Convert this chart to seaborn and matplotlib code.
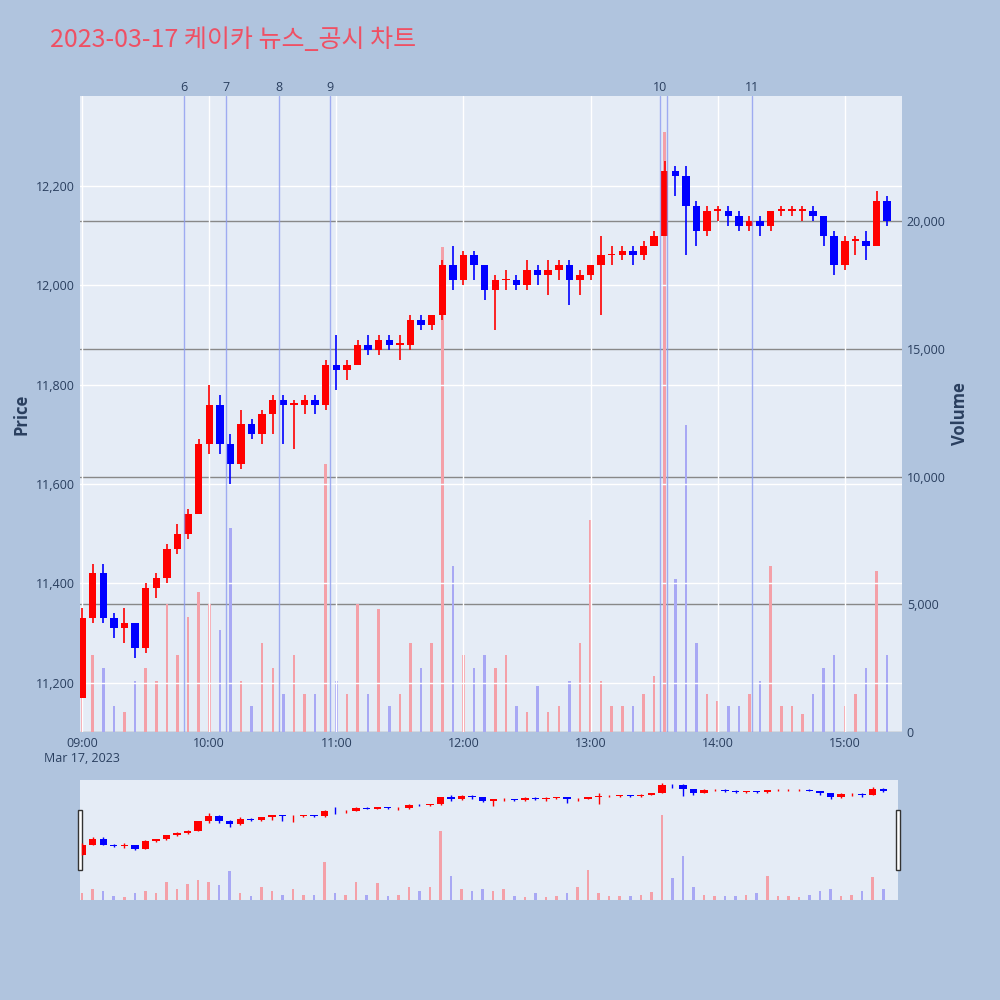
import matplotlib
matplotlib.use("Agg")
import matplotlib.pyplot as plt
import seaborn as sns
import numpy as np

# 5-minute bars from 09:00 (minutes after 09:00), last one is the 15:30 close
minutes = list(range(0, 385, 5)) + [390]
opens = [11170, 11330, 11420, 11330, 11310, 11320, 11270, 11390, 11410, 11470, 11500, 11540, 11680, 11760, 11680, 11640,
         11720, 11700, 11740, 11770, 11760, 11760, 11770, 11760, 11840, 11830, 11840, 11880, 11870, 11890, 11880, 11880,
         11930, 11920, 11940, 12040, 12010, 12060, 12040, 11990, 12010, 12010, 12000, 12030, 12020, 12030, 12040, 12010,
         12020, 12040, 12060, 12060, 12070, 12060, 12080, 12100, 12230, 12220, 12160, 12110, 12150, 12150, 12140, 12120,
         12130, 12120, 12150, 12150, 12150, 12150, 12140, 12100, 12040, 12090, 12090, 12080, 12170, 12160]
highs = [11350, 11440, 11440, 11340, 11350, 11320, 11400, 11420, 11480, 11520, 11550, 11690, 11800, 11780, 11700, 11750,
         11730, 11750, 11780, 11780, 11770, 11780, 11780, 11850, 11900, 11850, 11890, 11900, 11900, 11900, 11900, 11940,
         11940, 11940, 12050, 12080, 12070, 12070, 12040, 12020, 12030, 12020, 12050, 12040, 12050, 12050, 12050, 12030,
         12040, 12100, 12080, 12080, 12080, 12090, 12110, 12250, 12240, 12240, 12170, 12160, 12160, 12160, 12150, 12140,
         12140, 12150, 12160, 12160, 12160, 12160, 12140, 12110, 12100, 12100, 12110, 12190, 12180, 12160]
lows = [11170, 11320, 11320, 11290, 11280, 11250, 11260, 11370, 11400, 11460, 11490, 11540, 11660, 11660, 11600, 11630,
        11690, 11680, 11700, 11680, 11670, 11740, 11740, 11750, 11790, 11810, 11840, 11860, 11860, 11870, 11850, 11870,
        11910, 11910, 11930, 11990, 12000, 12010, 11970, 11910, 11990, 11990, 11990, 12000, 11980, 12010, 11960, 11980,
        12010, 11940, 12040, 12050, 12040, 12050, 12080, 12100, 12180, 12060, 12080, 12100, 12130, 12120, 12110, 12110,
        12100, 12110, 12140, 12140, 12130, 12130, 12080, 12020, 12030, 12060, 12050, 12080, 12120, 12160]
closes = [11330, 11420, 11330, 11310, 11320, 11270, 11390, 11410, 11470, 11500, 11540, 11680, 11760, 11680, 11640, 11720,
          11700, 11740, 11770, 11760, 11760, 11770, 11760, 11840, 11830, 11840, 11880, 11870, 11890, 11880, 11880, 11930,
          11920, 11940, 12040, 12010, 12060, 12040, 11990, 12010, 12010, 12000, 12030, 12020, 12030, 12040, 12010, 12020,
          12040, 12060, 12060, 12070, 12060, 12080, 12100, 12230, 12220, 12160, 12110, 12150, 12150, 12140, 12120, 12130,
          12120, 12150, 12150, 12150, 12150, 12140, 12100, 12040, 12090, 12090, 12080, 12170, 12130, 12160]
volumes = [2000, 3000, 2500, 1000, 800, 2000, 2500, 2000, 5000, 3000, 4500, 5500, 5000, 4000, 8000, 2000,
           1000, 3500, 2500, 1500, 3000, 1500, 1500, 10500, 2000, 1500, 5000, 1500, 4800, 1000, 1500, 3500,
           2500, 3500, 19000, 6500, 3000, 2500, 3000, 2500, 3000, 1000, 800, 1800, 800, 1000, 2000, 3500,
           8300, 2000, 1000, 1000, 1000, 1500, 2200, 23500, 6000, 12000, 3500, 1500, 1200, 1000, 1000, 1500,
           2000, 6500, 1000, 1000, 700, 1500, 2500, 3000, 1000, 1500, 2500, 6300, 3000, 12500]

news_minutes = [48, 68, 93, 117, 273, 276, 316]
news_labels = ["6", "7", "8", "9", "10", "", "11"]

hour_ticks = [0, 60, 120, 180, 240, 300, 360]
hour_labels = ["09:00\nMar 17, 2023", "10:00", "11:00", "12:00", "13:00", "14:00", "15:00"]

sns.set_theme(style="darkgrid", rc={"patch.linewidth": 0, "patch.edgecolor": "none"})
plt.rcParams['font.family'] = ['Open Sans', 'Noto Sans CJK KR', 'DejaVu Sans']

x = np.array(minutes)
o, h, l, c = map(np.array, (opens, highs, lows, closes))
up = c >= o
col = np.where(up, "#FF0000", "#0000FF")
vcol = np.where(up, "#F4A0A8", "#A8A8F4")


def candles(a, lw):
    a.vlines(x, l, h, colors=col, lw=lw)
    a.bar(x, np.maximum(np.abs(c - o), 3), bottom=np.minimum(o, c), color=col, width=3.5, linewidth=0)


fig = plt.figure(figsize=(10, 10), dpi=100)
fig.patch.set_facecolor("#B0C4DE")
fig.text(0.05, 0.96, "2023-03-17 케이카 뉴스_공시 차트", color="#EF5064", fontsize=18, va="center",
         family=['Noto Sans CJK KR', 'DejaVu Sans'])

ax = fig.add_axes([0.08, 0.268, 0.822, 0.636])
axv = ax.twinx()
ax.set_zorder(axv.get_zorder() + 1)
ax.patch.set_visible(False)
axv.patch.set_visible(True)
axv.set_facecolor("#E5ECF6")

axv.bar(x, volumes, color=vcol, width=1.2, linewidth=0)
axv.set_ylim(0, 24900)
axv.set_yticks([0, 5000, 10000, 15000, 20000])
axv.set_yticklabels(["0", "5,000", "10,000", "15,000", "20,000"])
axv.grid(axis="y", color="#888888", lw=1)
axv.grid(axis="x", visible=False)
axv.set_ylabel("Volume", fontsize=12, fontweight="bold", color="#2A3F5F")

candles(ax, 1.2)
ax.set_ylim(11101, 12381)
ax.set_xlim(-1, 387)
ax.set_yticks(range(11200, 12201, 200))
ax.set_yticklabels([f"{v:,}" for v in range(11200, 12201, 200)])
ax.set_xticks(hour_ticks)
ax.set_xticklabels(hour_labels)
ax.grid(color="white", lw=1)
ax.set_axisbelow(True)
ax.set_ylabel("Price", fontsize=12, fontweight="bold", color="#2A3F5F")
for a in (ax, axv):
    a.tick_params(colors="#2A3F5F", labelsize=9, length=0)
    for s in a.spines.values():
        s.set_visible(False)
for m, lab in zip(news_minutes, news_labels):
    ax.axvline(m, color="#8C9BF0", lw=1, alpha=0.8)
    ax.text(m, 12385, lab, ha="center", va="bottom", fontsize=9, color="#2A3F5F")

# range slider
axs = fig.add_axes([0.08, 0.10, 0.818, 0.12])
axs2 = axs.twinx()
axs2.patch.set_visible(True)
axs2.set_facecolor("#E5ECF6")
axs2.bar(x, volumes, color=vcol, width=1.2, linewidth=0)
axs2.set_ylim(0, 33000)
axs.set_zorder(axs2.get_zorder() + 1)
axs.patch.set_visible(False)
candles(axs, 1)
axs.set_ylim(10500, 12300)
axs.set_xlim(-1, 387)
for a in (axs, axs2):
    a.set_xticks([])
    a.set_yticks([])
    a.grid(False)
    for s in a.spines.values():
        s.set_visible(False)
for px in (0.0, 1.0):
    axs.add_patch(plt.Rectangle((px - 0.003, 0.25), 0.006, 0.5, transform=axs.transAxes,
                                facecolor="white", edgecolor="#333333", lw=1, clip_on=False))

fig.savefig("out.png", dpi=100, facecolor=fig.get_facecolor())
